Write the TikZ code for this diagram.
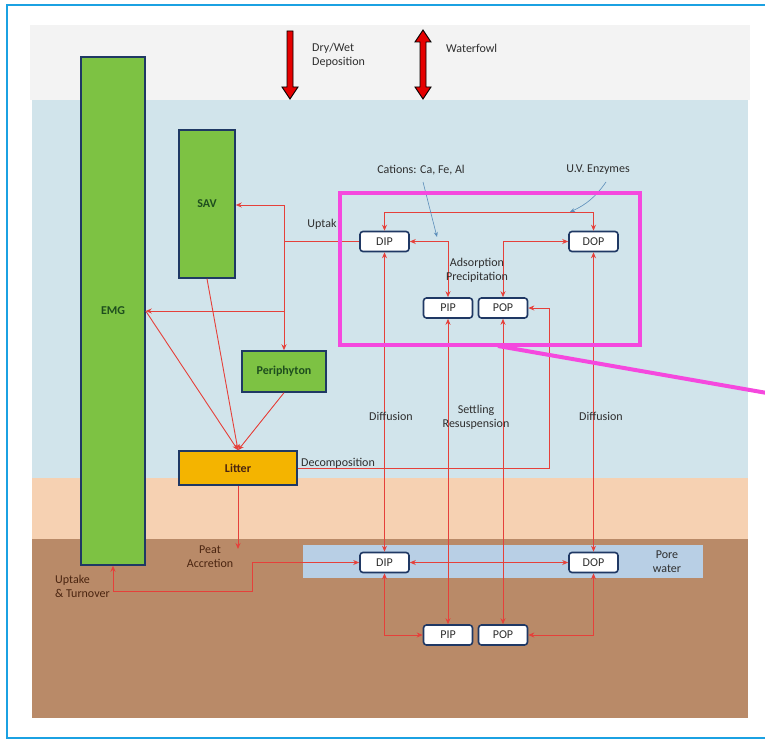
\documentclass[tikz,border=0pt]{standalone}
\usepackage{fontspec}
\setmainfont{Carlito}
\usetikzlibrary{arrows.meta,calc}
\definecolor{frameblue}{HTML}{1BA1E2}
\definecolor{skygray}{HTML}{F3F3F3}
\definecolor{water}{HTML}{D1E4EB}
\definecolor{peach}{HTML}{F6D1B2}
\definecolor{soil}{HTML}{B98A68}
\definecolor{pore}{HTML}{B8CFE5}
\definecolor{plantgreen}{HTML}{7DC243}
\definecolor{navy}{HTML}{1F3864}
\definecolor{litterc}{HTML}{F4B400}
\definecolor{flow}{HTML}{E5403A}
\definecolor{zoomline}{HTML}{F548DE}
\definecolor{note}{HTML}{5A8DBA}
\definecolor{txt}{HTML}{2E2E2E}
\definecolor{darkgreen}{HTML}{1E4E1E}
\definecolor{brownt}{HTML}{4A2410}
\begin{document}
\begin{tikzpicture}[x=1pt,y=-1pt,
  every node/.style={font=\fontsize{12}{14}\selectfont, text=txt},
  pool/.style={draw=navy, line width=1.6pt, fill=white, rounded corners=3pt,
    minimum width=49pt, minimum height=20pt, inner sep=0pt},
  plant/.style={draw=navy, line width=1.5pt, fill=plantgreen, inner sep=0pt, text=darkgreen,
    font=\fontsize{12}{14}\selectfont\bfseries},
  flowline/.style={draw=flow, line width=0.9pt},
  onetip/.style={flowline, -{Stealth[length=6pt,width=5pt]}},
  twotips/.style={flowline, {Stealth[length=6pt,width=5pt]}-{Stealth[length=6pt,width=5pt]}},
  lbl/.style={align=center, inner sep=0pt},
  bigarrow/.style={fill=red!90!black, draw=black, line width=0.9pt, line join=miter}
]
\useasboundingbox (0,0) rectangle (765,741);
% frame
\draw[frameblue, line width=2pt] (765,5) -- (7,5) -- (7,738) -- (765,738);
% layers
\fill[skygray] (30,25) rectangle (750,100);
\fill[water] (32,100) rectangle (748,478);
\fill[peach] (32,478) rectangle (748,539);
\fill[soil] (32,539) rectangle (748,718);
\fill[pore] (303,545) rectangle (703,578);

% top arrows
\draw[bigarrow] (287,31) -- (293,31) -- (293,87) -- (298,87) -- (290,99) -- (282,87) -- (287,87) -- cycle;
\draw[bigarrow] (423,30) -- (431,42) -- (426,42) -- (426,87) -- (431,87) -- (423,99) -- (415,87) -- (420,87) -- (420,42) -- (415,42) -- cycle;
\node[lbl, align=left, anchor=north west] (dep) at (312,43) {Dry/Wet\\Deposition};
\node[lbl, anchor=west] (fowl) at (446,48) {Waterfowl};

% nodes
\node[plant, minimum width=64pt, minimum height=508pt] (EMG) at (113,311) {EMG};
\node[plant, minimum width=56pt, minimum height=148pt] (SAV) at (207,204) {SAV};
\node[plant, minimum width=84pt, minimum height=41pt] (Peri) at (284,371.5) {Periphyton};
\node[draw=navy, line width=1.5pt, fill=litterc, inner sep=0pt, text=brownt,
  font=\fontsize{12}{14}\selectfont\bfseries,
  minimum width=118pt, minimum height=34pt] (Litter) at (238,468) {Litter};

\node[pool] (DIPw) at (384.5,241.5) {DIP};
\node[pool] (DOPw) at (593.5,241.5) {DOP};
\node[pool] (PIPw) at (448,308) {PIP};
\node[pool] (POPw) at (503,308) {POP};
\node[pool] (DIPs) at (384.5,562.5) {DIP};
\node[pool] (DOPs) at (593.5,562.5) {DOP};
\node[pool] (PIPs) at (448,635) {PIP};
\node[pool] (POPs) at (503,635) {POP};

% helper coordinates
\coordinate (ytop) at (0,212);
\coordinate (decR) at (549,468);
\coordinate (savJ) at (284,205);
\coordinate (upJ) at (284,241.5);
\coordinate (emgJ) at (284,311);
\coordinate (peatEnd) at (238,549);
\coordinate (utB) at (252,591);

% connectors
\draw[twotips] (DIPw.north) -- (DIPw.north |- ytop) -| (DOPw.north);
\draw[twotips] (DIPw.east) -| (PIPw.north);
\draw[twotips] (DOPw.west) -| (POPw.north);
\draw[onetip] (Litter.east) -- (decR) |- (POPw.east);
\draw[flowline] (DIPw.west) -- (upJ);
\draw[flowline] (savJ) -- (upJ);
\draw[onetip] (savJ) -- (SAV.east |- savJ);
\draw[onetip] (upJ) -- (Peri.north);
\draw[onetip] (emgJ) -- (EMG.east |- emgJ);
\draw[onetip] (SAV.south) -- (Litter.north);
\draw[onetip] (EMG.east |- emgJ) -- (Litter.north);
\draw[onetip] (Peri.south) -- (Litter.north);
\draw[onetip] (Litter.south) -- (peatEnd);
\draw[twotips] (EMG.south) |- (utB) |- (DIPs.west);
\draw[twotips] (DIPw.south) -- (DIPs.north);
\draw[twotips] (DOPw.south) -- (DOPs.north);
\draw[twotips] (PIPw.south) -- (PIPs.north);
\draw[twotips] (POPw.south) -- (POPs.north);
\draw[twotips] (DIPs.east) -- (DOPs.west);
\draw[twotips] (DIPs.south) |- (PIPs.west);
\draw[twotips] (DOPs.south) |- (POPs.east);

% annotation labels
\node[lbl] (catl) at (421,170) {Cations: Ca, Fe, Al};
\node[lbl] (uvl) at (598,170) {U.V. Enzymes};
\coordinate (catT) at (437,237);
\coordinate (uvT) at (570,212);
\draw[note, line width=0.6pt, -{Stealth[length=5pt,width=4pt]}] (423,182) -- (catT);
\draw[note, line width=0.6pt, -{Stealth[length=5pt,width=4pt]}] (606,182) to[bend left=15] (uvT);
\node[lbl] (adsl) at (477,270) {Adsorption\\Precipitation};
\node[lbl] (up1) at (322,224) {Uptak};
\node[lbl] (dif1) at (391,416) {Diffusion};
\node[lbl] (dif2) at (601,416) {Diffusion};
\node[lbl] (setl) at (476,417) {Settling\\Resuspension};
\node[lbl, anchor=west] (decl) at (301,463) {Decomposition};
\node[lbl, text=brownt] (peatl) at (210,557) {Peat\\Accretion};
\node[lbl, text=brownt, align=left, anchor=north west] (utl) at (55,575) {Uptake\\\& Turnover};
\node[lbl] (porel) at (667,562) {Pore\\water};

% magenta zoom box
\draw[zoomline, line width=4pt] (340,193) rectangle (640,345);
\coordinate (zA) at (498,346);
\coordinate (zB) at (767,393);
\draw[zoomline, line width=4pt] (zA) -- (zB);
\end{tikzpicture}
\end{document}
